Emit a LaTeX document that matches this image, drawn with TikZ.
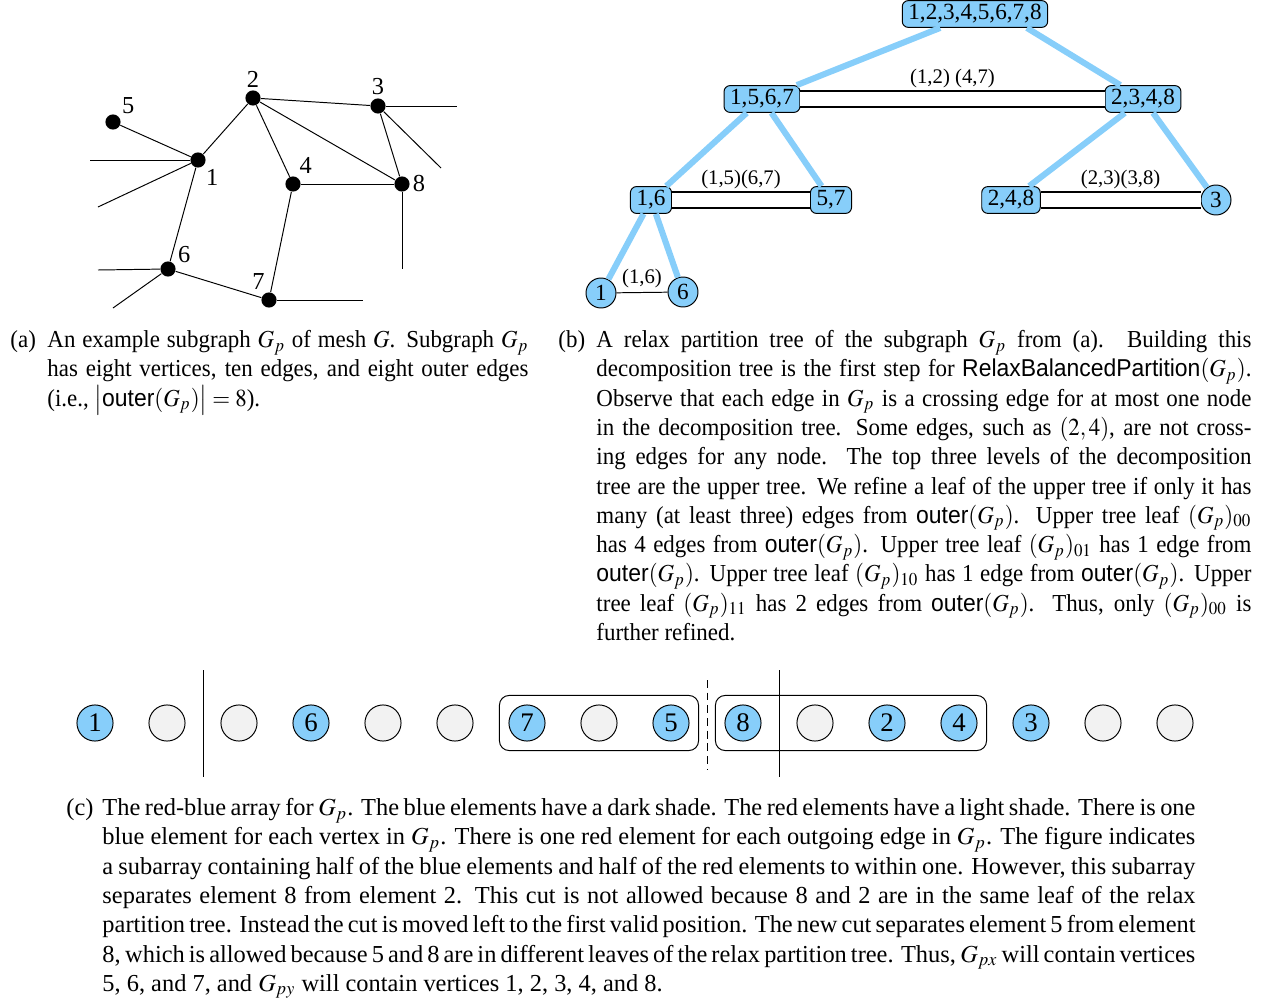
\documentclass[tikz,border=0pt]{standalone}
\usepackage{graphicx}
\usepackage{mathptmx}
\usepackage[no-math]{fontspec}
\setmainfont{Liberation Serif}
\setsansfont{Liberation Sans}
\usetikzlibrary{positioning,fit,calc}
\definecolor{cellblue}{RGB}{135,206,250}
\definecolor{cellgray}{RGB}{242,242,242}
\tikzstyle{vertex}=[circle,fill=black,minimum size=6.2pt,inner sep=0pt]
\tikzstyle{vlab}=[font=\fontsize{10}{12}\selectfont,inner sep=1pt]
\tikzstyle{tnode}=[draw,fill=cellblue,rounded corners=2.5pt,minimum height=11pt,
  inner xsep=2.5pt,inner ysep=0pt,font=\fontsize{9.5}{11}\selectfont]
\tikzstyle{tleaf}=[draw,fill=cellblue,circle,minimum size=12.3pt,inner sep=0pt,
  font=\fontsize{9.5}{11}\selectfont]
\tikzstyle{tedge}=[cellblue,line width=2.5pt]
\tikzstyle{cross}=[double,double distance=6pt,line width=0.5pt]
\tikzstyle{elab}=[font=\fontsize{8.5}{10}\selectfont,inner sep=0pt]
\tikzstyle{bluecell}=[circle,draw,fill=cellblue,minimum size=14.8pt,inner sep=0pt,
  font=\fontsize{11}{13}\selectfont]
\tikzstyle{redcell}=[bluecell,fill=cellgray]
\tikzstyle{grp}=[draw,rounded corners=4pt,inner sep=3.7pt]
\tikzstyle{capt}=[font=\fontsize{10}{12}\selectfont,inner sep=0pt,anchor=north west]
% narrow caption text of the two upper figures
\newcommand{\narrowcap}[2]{\scalebox{0.94}[1]{\parbox[t]{#1}{#2}}}

\begin{document}
\begin{tikzpicture}[x=0.41pt,y=-0.41pt]
  \useasboundingbox (0,0) rectangle (1271,1001);

  % mesh subgraph
  \node[vertex,label={[vlab]-50:1}] (v1) at (198,160) {};
  \node[vertex,label={[vlab]90:2}] (v2) at (253,98) {};
  \node[vertex,label={[vlab]90:3}] (v3) at (378,106) {};
  \node[vertex,label={[vlab]62:4}] (v4) at (293,184) {};
  \node[vertex,label={[vlab]40:5}] (v5) at (113,122) {};
  \node[vertex,label={[vlab]25:6}] (v6) at (168,269) {};
  \node[vertex,label={[vlab]100:7}] (v7) at (269,300) {};
  \node[vertex,label={[vlab]0:8}] (v8) at (402,184) {};

  \coordinate (o1a) at (90,160);
  \coordinate (o1b) at (98,207);
  \coordinate (o3a) at (457,106);
  \coordinate (o3b) at (441,168);
  \coordinate (o8) at (402,269);
  \coordinate (o6a) at (98,270);
  \coordinate (o6b) at (113,308);
  \coordinate (o7) at (363,300);

  \draw (v5) -- (v1);
  \draw (v1) -- (v2);
  \draw (v2) -- (v3);
  \draw (v2) -- (v4);
  \draw (v2) -- (v8);
  \draw (v3) -- (v8);
  \draw (v4) -- (v8);
  \draw (v4) -- (v7);
  \draw (v1) -- (v6);
  \draw (v6) -- (v7);
  % outer edges
  \draw (v1) -- (o1a);
  \draw (v1) -- (o1b);
  \draw (v3) -- (o3a);
  \draw (v3) -- (o3b);
  \draw (v8) -- (o8);
  \draw (v6) -- (o6a);
  \draw (v6) -- (o6b);
  \draw (v7) -- (o7);

  % relax partition tree
  \node[tnode] (root) at (975,14) {1,2,3,4,5,6,7,8};
  \node[tnode] (n1567) at (762,99) {1,5,6,7};
  \node[tnode] (n2348) at (1143,99) {2,3,4,8};
  \node[tnode] (n16) at (651,200) {1,6};
  \node[tnode] (n57) at (831,200) {5,7};
  \node[tnode] (n248) at (1011,200) {2,4,8};
  \node[tleaf] (l3) at (1216,200) {3};
  \node[tleaf] (l1) at (601,293) {1};
  \node[tleaf] (l6) at (683,292) {6};

  \draw[tedge] (root) -- (n1567);
  \draw[tedge] (root.-15.6) -- (n2348);
  \draw[tedge] (n1567) -- (n16);
  \draw[tedge] (n1567) -- (n57);
  \draw[tedge] (n2348) -- (n248);
  \draw[tedge] (n2348) -- (l3);
  \draw[tedge] (n16) -- (l1);
  \draw[tedge] (n16) -- (l6);
  % crossing edges
  \draw[cross] (n1567) -- node[elab,yshift=8.6pt] {(1,2) (4,7)} (n2348);
  \draw[cross] (n16) -- node[elab,yshift=8.6pt] {(1,5)(6,7)} (n57);
  \draw[cross] (n248) -- node[elab,yshift=8.6pt] {(2,3)(3,8)} (l3);
  \draw (l1) -- node[elab,yshift=5.9pt] {(1,6)} (l6);

  % red-blue array
  \foreach \i/\lab/\sty in {1/1/bluecell,2//redcell,3//redcell,4/6/bluecell,
    5//redcell,6//redcell,7/7/bluecell,8//redcell,9/5/bluecell,10/8/bluecell,
    11//redcell,12/2/bluecell,13/4/bluecell,14/3/bluecell,15//redcell,16//redcell}
    \node[\sty] (a\i) at (23+72*\i,723) {\lab};

  \node[grp,fit=(a7)(a9)] (g1) {};
  \node[grp,fit=(a10)(a13)] (g2) {};

  \coordinate (cut1) at ($(a2)!0.5!(a3)$);
  \coordinate (cut2) at ($(a9)!0.5!(a10)$);
  \coordinate (cut3) at ($(a10)!0.5!(a11)$);
  \draw (cut1) ++(0,-53) -- ++(0,107);
  \draw[dash pattern=on 3.2pt off 2pt] (cut2) ++(0,-43) -- ++(0,90);
  \draw (cut3) ++(0,-53) -- ++(0,107);

  % captions
  \node[capt] (capa) at (10,330) {\scalebox{0.94}[1]{(a)}};
  \node[capt] (txta) at (47,330) {\narrowcap{209.8pt}{An example
    subgraph $G_p$ of mesh $G$. Subgraph $G_p$\linebreak
    has eight vertices, ten edges, and eight outer edges\linebreak
    (i.e., $\bigl|\textsf{outer}(G_p)\bigr| = 8$).}};

  \node[capt] (capb) at (558,330) {\scalebox{0.94}[1]{(b)}};
  \node[capt] (txtb) at (596,330) {\narrowcap{285.7pt}{A relax
    partition tree of the subgraph $G_p$ from (a).  Building this\linebreak
    decomposition tree is the first step for \textsf{RelaxBalancedPartition}$(G_p)$.\linebreak
    Observe that each edge in $G_p$ is a crossing edge for at most one node\linebreak
    in the decomposition tree. Some edges, such as $(2,4)$, are not cross-\linebreak
    ing edges for any node.  The top three levels of the decomposition\linebreak
    tree are the upper tree. We refine a leaf of the upper tree if only it has\linebreak
    many (at least three) edges from \textsf{outer}$(G_p)$.  Upper tree leaf $(G_p)_{00}$\linebreak
    has 4 edges from \textsf{outer}$(G_p)$. Upper tree leaf $(G_p)_{01}$ has 1 edge from\linebreak
    \textsf{outer}$(G_p)$. Upper tree leaf $(G_p)_{10}$ has 1 edge from \textsf{outer}$(G_p)$. Upper\linebreak
    tree leaf $(G_p)_{11}$ has 2 edges from \textsf{outer}$(G_p)$.  Thus, only $(G_p)_{00}$ is\linebreak
    further refined.}};

  \node[capt] (capc) at (66,798) {(c)};
  \node[capt,text width=448.1pt,align=justify] (txtc) at (102,798) {The red-blue
    array for $G_p$. The blue elements have a dark shade. The red elements have a light shade. There is one\linebreak
    blue element for each vertex in $G_p$.  There is one red element for each outgoing edge in $G_p$.  The figure indicates\linebreak
    a subarray containing half of the blue elements and half of the red elements to within one. However, this subarray\linebreak
    separates element 8 from element 2.  This cut is not allowed because 8 and 2 are in the same leaf of the relax\linebreak
    partition tree. Instead the cut is moved left to the first valid position. The new cut separates element 5 from element\linebreak
    8, which is allowed because 5 and 8 are in different leaves of the relax partition tree. Thus, $G_{px}$ will contain vertices\linebreak
    5, 6, and 7, and $G_{py}$ will contain vertices 1, 2, 3, 4, and 8.};
\end{tikzpicture}
\end{document}
